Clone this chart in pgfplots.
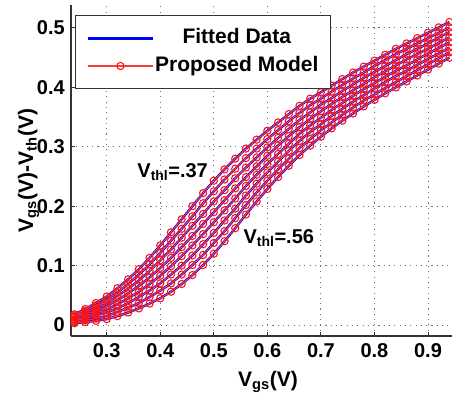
\documentclass[border=0pt]{standalone}
\usepackage{pgfplots}
\pgfplotsset{compat=1.18}
\usepackage{pgfplotstable}
\usepackage{fontspec}
\setmainfont{Liberation Sans}

% Overdrive curves: columns c1 (V_thl = .37) ... c8 (V_thl = .56)
\pgfplotstableread{
x    c1    c2    c3    c4    c5    c6    c7    c8
0.24 0.018 0.016 0.014 0.012 0.009 0.007 0.005 0.003
0.26 0.027 0.024 0.021 0.018 0.014 0.011 0.008 0.005
0.28 0.037 0.033 0.028 0.024 0.020 0.016 0.011 0.007
0.30 0.048 0.043 0.037 0.032 0.026 0.021 0.015 0.010
0.32 0.062 0.055 0.049 0.042 0.035 0.028 0.022 0.015
0.34 0.077 0.069 0.061 0.053 0.045 0.037 0.029 0.021
0.36 0.094 0.085 0.075 0.066 0.056 0.047 0.037 0.028
0.38 0.113 0.102 0.091 0.080 0.069 0.058 0.047 0.036
0.40 0.134 0.121 0.109 0.096 0.083 0.070 0.058 0.045
0.42 0.156 0.142 0.127 0.113 0.099 0.085 0.070 0.056
0.44 0.178 0.162 0.147 0.131 0.116 0.100 0.085 0.069
0.46 0.200 0.183 0.167 0.150 0.134 0.117 0.101 0.084
0.48 0.222 0.205 0.187 0.170 0.153 0.136 0.118 0.101
0.50 0.243 0.225 0.208 0.190 0.173 0.155 0.138 0.120
0.52 0.262 0.245 0.227 0.210 0.193 0.176 0.158 0.141
0.54 0.280 0.263 0.247 0.230 0.213 0.196 0.180 0.163
0.56 0.297 0.281 0.265 0.249 0.234 0.218 0.202 0.186
0.58 0.312 0.297 0.282 0.267 0.253 0.238 0.223 0.208
0.60 0.327 0.313 0.299 0.285 0.271 0.257 0.243 0.229
0.62 0.341 0.328 0.315 0.302 0.288 0.275 0.262 0.249
0.64 0.355 0.343 0.330 0.318 0.305 0.293 0.280 0.268
0.66 0.369 0.357 0.345 0.333 0.322 0.310 0.298 0.286
0.68 0.381 0.370 0.358 0.347 0.336 0.325 0.313 0.302
0.70 0.392 0.381 0.371 0.360 0.349 0.338 0.328 0.317
0.72 0.403 0.393 0.382 0.372 0.362 0.352 0.341 0.331
0.74 0.414 0.404 0.394 0.384 0.374 0.364 0.354 0.344
0.76 0.425 0.415 0.405 0.395 0.386 0.376 0.366 0.356
0.78 0.435 0.425 0.416 0.406 0.397 0.387 0.378 0.368
0.80 0.445 0.436 0.426 0.417 0.407 0.398 0.388 0.379
0.82 0.455 0.446 0.436 0.427 0.418 0.409 0.399 0.390
0.84 0.465 0.456 0.446 0.437 0.428 0.419 0.409 0.400
0.86 0.474 0.465 0.456 0.447 0.437 0.428 0.419 0.410
0.88 0.483 0.474 0.465 0.456 0.447 0.438 0.429 0.420
0.90 0.492 0.483 0.474 0.465 0.457 0.448 0.439 0.430
0.92 0.501 0.492 0.484 0.475 0.466 0.457 0.449 0.440
0.94 0.510 0.501 0.493 0.484 0.476 0.467 0.459 0.450
}\curves

\definecolor{fitblue}{RGB}{0,0,255}
\definecolor{modelred}{RGB}{255,20,20}
\definecolor{modelline}{RGB}{255,60,60}
\definecolor{axisgray}{RGB}{50,50,50}
\definecolor{gridgray}{RGB}{110,110,110}

\begin{document}
\begin{tikzpicture}[font=\bfseries]
\begin{axis}[
  name=ax, at={(0,0)}, anchor=south west,
  scale only axis, width=381bp, height=331bp,
  xmin=0.2333, xmax=0.9448, ymin=-0.0185, ymax=0.5387,
  axis x line=bottom, axis y line=left,
  axis line style={-, line width=1.5bp, draw=axisgray},
  xtick={0.3,0.4,0.5,0.6,0.7,0.8,0.9},
  ytick={0,0.1,0.2,0.3,0.4,0.5},
  tick align=inside, major tick length=4bp,
  tick style={line width=1bp, draw=axisgray},
  grid=major,
  major grid style={line width=1bp, draw=gridgray, dash pattern=on 1.1bp off 4.2bp},
  /pgf/number format/assume math mode=true,
  tick label style={font=\bfseries\fontsize{20bp}{24bp}\selectfont, inner sep=0pt},
  yticklabel style={xshift=-6bp},
  xticklabel style={yshift=-7bp},
  xlabel={V\textsubscript{gs}(V)},
  ylabel={V\textsubscript{gs}(V)-V\textsubscript{th}(V)},
  label style={font=\bfseries\fontsize{21bp}{25bp}\selectfont},
  xlabel style={at={(axis description cs:0.517,-0.153)}, anchor=base},
  ylabel style={at={(axis description cs:-0.0997,0.5)}, anchor=base, rotate=0},
  legend cell align=center,
  legend image code/.code={%
    \draw[mark repeat=2,mark phase=2,#1] plot coordinates {(0bp,0bp) (32.5bp,0bp) (65bp,0bp)};},
  legend style={at={(axis description cs:0.0105,0.9698)}, anchor=north west,
    draw=axisgray, line width=1.5bp, fill=white,
    inner xsep=11bp, inner ysep=12bp, row sep=6bp,
    font=\bfseries\fontsize{21bp}{25bp}\selectfont,
    nodes={inner sep=1bp, text height=15bp, text depth=4.5bp}},
]
% fitted data (blue)
\addplot[fitblue, line width=2.4bp] table[x=x, y=c1] {\curves};
\addlegendentry{Fitted Data}
\pgfplotsinvokeforeach{2,3,4,5,6,7,8}{
  \addplot[fitblue, line width=2.4bp, forget plot] table[x=x, y=c#1] {\curves};
}
% proposed model (red, circle marks)
\addplot[draw=modelline, line width=1.1bp, mark=o,
  mark options={draw=modelred, line width=1.1bp}, mark size=3.6bp]
  table[x=x, y=c1] {\curves};
\addlegendentry{Proposed Model}
\pgfplotsinvokeforeach{2,3,4,5,6,7,8}{
  \addplot[draw=modelline, line width=1.1bp, mark=o,
    mark options={draw=modelred, line width=1.1bp}, mark size=3.6bp, forget plot]
    table[x=x, y=c#1] {\curves};
}
\node[anchor=base west, font=\bfseries\fontsize{20bp}{24bp}\selectfont, inner sep=0pt]
  at (axis cs:0.357,0.249) {V\textsubscript{thl}=.37};
\node[anchor=base west, font=\bfseries\fontsize{20bp}{24bp}\selectfont, inner sep=0pt]
  at (axis cs:0.5553,0.1375) {V\textsubscript{thl}=.56};
\end{axis}
\pgfresetboundingbox
\path (ax.south west) ++(-71bp,-60bp) rectangle ++(452bp,396bp);
\end{tikzpicture}
\end{document}
